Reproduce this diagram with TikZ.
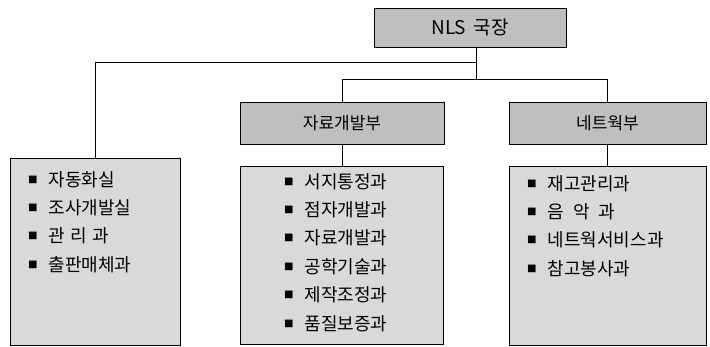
\documentclass[tikz,border=0pt]{standalone}
\usepackage{fontspec}
\setmainfont{Noto Sans CJK KR}
\usetikzlibrary{positioning}
\tikzset{
  head/.style={draw, fill=gray!50, line width=0.8pt, inner sep=0pt,
    font=\fontsize{17}{20}\selectfont},
  unitbox/.style={draw, fill=gray!30, line width=0.8pt, anchor=north west, inner sep=0pt},
  items/.style={anchor=north west, align=left, inner sep=0pt,
    font=\fontsize{18}{28.4}\selectfont},
  link/.style={line width=0.8pt}
}
\newcommand{\bul}{\raisebox{3pt}{\fontsize{9.5}{9.5}\selectfont■}\hspace{11pt}}

\begin{document}
\begin{tikzpicture}[x=1pt, y=-1pt]
  \useasboundingbox (0,0) rectangle (710,347);
  % heads
  \node [head, minimum width=192pt, minimum height=39pt, font=\fontsize{19}{22}\selectfont] (chief) at (470,27.5) {NLS\hspace{0.4em}국장};
  \node [head, minimum width=204pt, minimum height=42pt] (dev) at (342,123) {자료개발부};
  \node [head, minimum width=197pt, minimum height=42pt] (net) at (607.5,123) {네트웍부};
  % units
  \node [unitbox, minimum width=170pt, minimum height=187pt] (office) at (10,158) {};
  \node [unitbox, minimum width=203pt, minimum height=178pt] (devunits) at (240,166) {};
  \node [unitbox, minimum width=197pt, minimum height=179pt] (netunits) at (509,166) {};
  \node [items] (officelist) at (28,171) {\bul 자동화실\\ \bul 조사개발실\\ \bul 관\hspace{0.3em}리\hspace{0.3em}과\\ \bul 출판매체과};
  \node [items] (devlist) at (284,173) {\bul 서지통정과\\ \bul 점자개발과\\ \bul 자료개발과\\ \bul 공학기술과\\ \bul 제작조정과\\ \bul 품질보증과};
  \node [items] (netlist) at (527,175) {\bul 재고관리과\\ \bul 음\hspace{0.5em}악\hspace{0.5em}과\\ \bul 네트웍서비스과\\ \bul 참고봉사과};
  % connectors
  \coordinate (j1) at (476,62);
  \coordinate (j2) at (476,79);
  \draw [link] (chief.south -| j1) -- (j2);
  \draw [link] (j1) -| (office.north);
  \draw [link] (j2) -| (dev.north);
  \draw [link] (j2) -| (net.north);
  \draw [link] (dev.south) -- (dev.south |- devunits.north);
  \draw [link] (net.south) -- (net.south |- netunits.north);
\end{tikzpicture}
\end{document}
